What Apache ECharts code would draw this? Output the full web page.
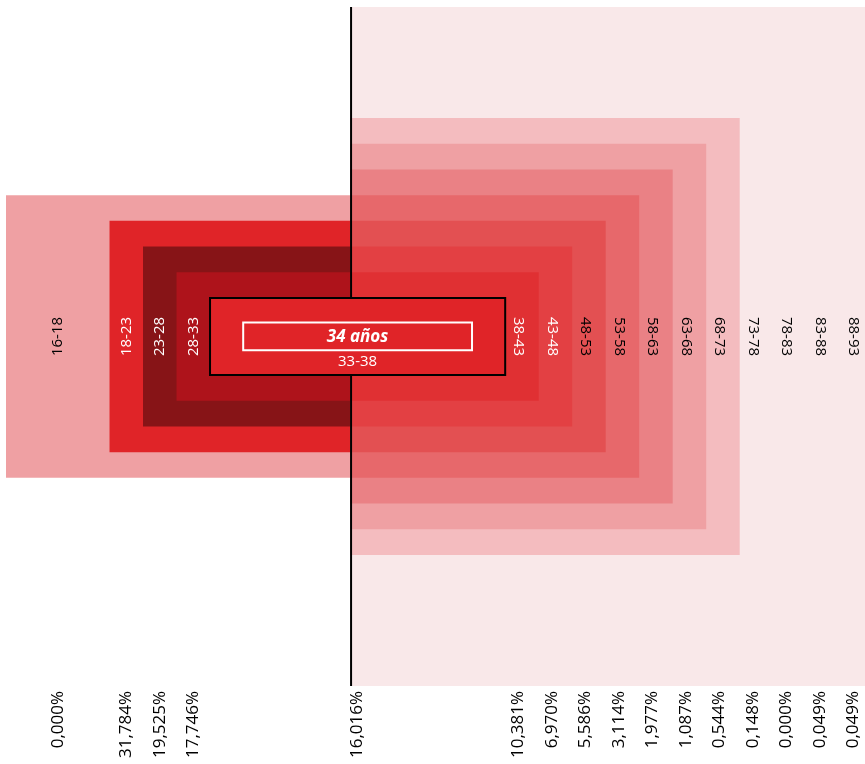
<!DOCTYPE html>
<html>
<head>
<meta charset="utf-8">
<script src="https://cdn.jsdelivr.net/npm/echarts@6/dist/echarts.min.js"></script>
<style>
  html, body { margin: 0; padding: 0; background: #fff; }
  #main { width: 865px; height: 764px; }
</style>
</head>
<body>
<div id="main"></div>
<script>
// grupos de edad y su peso (%)
const ageGroups = ['16-18', '18-23', '23-28', '28-33', '33-38', '38-43', '43-48', '48-53',
  '53-58', '58-63', '63-68', '68-73', '73-78', '78-83', '83-88', '88-93'];
const shares = [0.000, 31.784, 19.525, 17.746, 16.016, 10.381, 6.970, 5.586,
  3.114, 1.977, 1.087, 0.544, 0.148, 0.000, 0.049, 0.049];
const meanAge = 34;
const meanLabel = meanAge + ' años';

// colores
const groupColors = ['#EFA0A3', '#E02428', '#871417', '#AE131B', '#E02428', '#E03033', '#E34043', '#E35052',
  '#E7686B', '#EA8185', '#EFA0A3', '#F4BCBF'];
const labelColors = ['#000', '#fff', '#fff', '#fff', '#fff', '#fff', '#fff', '#000',
  '#000', '#000', '#000', '#000', '#000', '#000', '#000', '#000'];
const tailColor = '#F9E8E9';
const FONT = '"Open Sans", "Noto Sans", sans-serif';

// layout en unidades de eje: x = una columna por grupo, y = una fila por anillo
const xMin = -10.27, xMax = 15.37, yMin = -13.6, yMax = 12.82;
const coreLeft = -4.18, coreRight = 4.63, coreHalf = 1.5;
const coreIndex = 4;
const lastRing = 7;

function ringOf(i) { return Math.abs(i - coreIndex); }

function extent(i) {
  const r = ringOf(i);
  if (i < coreIndex) return { x0: i === 0 ? xMin : coreLeft - r, x1: 0, h: coreHalf + r };
  if (i === coreIndex) return { x0: coreLeft, x1: coreRight, h: coreHalf };
  if (r <= lastRing) return { x0: 0, x1: coreRight + r, h: coreHalf + r };
  return null;
}

function labelX(i) {
  const r = ringOf(i);
  if (i < coreIndex) return i === 0 ? (xMin + coreLeft - (r - 1)) / 2 : coreLeft - r + 0.5;
  if (i === coreIndex) return (coreLeft + coreRight) / 2;
  return coreRight + r - 0.6;
}

function box(api, x0, x1, top, bottom) {
  const p0 = api.coord([x0, top]);
  const p1 = api.coord([x1, bottom]);
  return { x: p0[0], y: p0[1], width: p1[0] - p0[0], height: p1[1] - p0[1] };
}

function text(x, y, rot, str, fill, font, align) {
  return {
    type: 'text', x: x, y: y, rotation: rot,
    style: { text: str, fill: fill, font: font, align: align, textAlign: align,
      verticalAlign: 'middle', textVerticalAlign: 'middle' }
  };
}

const drawOrder = ageGroups.map((g, i) => i)
  .filter(i => i !== coreIndex)
  .sort((a, b) => ringOf(b) - ringOf(a));

const chart = echarts.init(document.getElementById('main'));

chart.setOption({
  animation: false,
  grid: { left: 6, right: 0, top: 7, bottom: 78 },
  xAxis: { type: 'value', min: xMin, max: xMax, show: false },
  yAxis: { type: 'value', min: yMin, max: yMax, show: false },
  series: [
    {
      name: 'fondo', type: 'custom', z: 1,
      data: [[0]],
      renderItem(params, api) {
        return { type: 'rect', shape: box(api, 0, xMax, yMax, yMin), style: { fill: tailColor } };
      }
    },
    {
      name: 'anillos', type: 'custom', z: 2,
      data: drawOrder.map(i => [i]),
      renderItem(params, api) {
        const i = api.value(0);
        const e = extent(i);
        const children = [];
        if (e) {
          children.push({ type: 'rect', shape: box(api, e.x0, e.x1, e.h, -e.h),
            style: { fill: groupColors[i] } });
        }
        const p = api.coord([labelX(i), 0]);
        const rot = i < coreIndex ? Math.PI / 2 : -Math.PI / 2;
        children.push(text(p[0], p[1], rot, ageGroups[i], labelColors[i], '15px ' + FONT, 'center'));
        return { type: 'group', children: children };
      }
    },
    {
      name: 'eje', type: 'custom', z: 3,
      data: [[0]],
      renderItem(params, api) {
        const a = api.coord([0, yMax]);
        const b = api.coord([0, yMin]);
        return { type: 'line', shape: { x1: a[0] + 1, y1: a[1], x2: b[0] + 1, y2: b[1] },
          style: { stroke: '#000', lineWidth: 2 } };
      }
    },
    {
      name: 'centro', type: 'custom', z: 4,
      data: [[coreIndex]],
      renderItem(params, api) {
        const i = api.value(0);
        const e = extent(i);
        const c = api.coord([labelX(i), 0]);
        const sub = api.coord([labelX(i), -0.98]);
        return {
          type: 'group',
          children: [
            { type: 'rect', shape: box(api, e.x0, e.x1, e.h, -e.h),
              style: { fill: groupColors[i], stroke: '#000', lineWidth: 2 } },
            { type: 'rect', shape: box(api, e.x0 + 0.99, e.x1 - 0.99, 0.54, -0.54),
              style: { fill: groupColors[i], stroke: '#fff', lineWidth: 2 } },
            text(c[0], c[1] + 1, 0, meanLabel, '#fff', 'italic bold 17px ' + FONT, 'center'),
            text(sub[0], sub[1], 0, ageGroups[i], labelColors[i], '15px ' + FONT, 'center')
          ]
        };
      }
    },
    {
      name: 'porcentajes', type: 'custom', z: 5,
      data: ageGroups.map((g, i) => [i]),
      renderItem(params, api) {
        const i = api.value(0);
        const p = api.coord([labelX(i), yMin]);
        const str = shares[i].toFixed(3).replace('.', ',') + '%';
        return text(p[0], p[1] + 5, Math.PI / 2, str, '#000', '17px ' + FONT, 'right');
      }
    }
  ]
});
</script>
</body>
</html>
